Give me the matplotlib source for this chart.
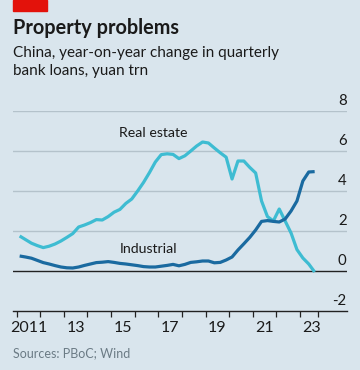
import numpy as np
import matplotlib
matplotlib.use("Agg")
import matplotlib.pyplot as plt

# Quarterly data, 2011Q1 - 2023Q3 (plotted at mid-quarter)
start_year = 2011
n_quarters = 51
real_estate = [1.75, 1.57, 1.39, 1.27, 1.17, 1.24, 1.35, 1.50, 1.68, 1.87,
               2.20, 2.30, 2.42, 2.57, 2.55, 2.72, 2.94, 3.08, 3.38, 3.60,
               4.00, 4.43, 4.92, 5.45, 5.82, 5.86, 5.83, 5.62, 5.76, 6.00,
               6.25, 6.45, 6.40, 6.15, 5.91, 5.69, 4.60, 5.50, 5.50, 5.18,
               4.90, 3.50, 2.72, 2.50, 3.10, 2.50, 1.90, 1.07, 0.65, 0.35,
               -0.05]
industrial = [0.75, 0.70, 0.64, 0.53, 0.42, 0.35, 0.27, 0.20, 0.16, 0.15,
              0.20, 0.28, 0.35, 0.42, 0.44, 0.47, 0.43, 0.38, 0.35, 0.31,
              0.27, 0.22, 0.20, 0.20, 0.24, 0.28, 0.33, 0.26, 0.33, 0.43,
              0.46, 0.50, 0.50, 0.41, 0.43, 0.55, 0.70, 1.05, 1.36, 1.68,
              2.05, 2.48, 2.52, 2.48, 2.45, 2.60, 3.00, 3.50, 4.50, 4.95,
              4.97]
x_labels = ["2011", "13", "15", "17", "19", "21", "23"]
y_ticks = [-2, 0, 2, 4, 6, 8]

t = start_year + 0.125 + 0.25 * np.arange(n_quarters)

BG = "#d9e5ed"
CYAN = "#3ebcd2"
BLUE = "#1a6aa0"
GRID = "#b4c2cb"
TXT = "#1a1a1a"
FONT = "Lato"

fig = plt.figure(figsize=(3.6, 3.7), dpi=100)
fig.patch.set_facecolor(BG)

ax = fig.add_axes([13.3 / 360, 59 / 370, (346.7 - 13.3) / 360, 200 / 370])
ax.set_facecolor(BG)
ax.set_xlim(2010.856, 2024.983)
ax.set_ylim(-2, 8)

for yv in [2, 4, 6, 8]:
    ax.axhline(yv, color=GRID, lw=1.0, zorder=1)
ax.axhline(0, color="#222222", lw=1.0, zorder=2)

ax.plot(t, real_estate, color=CYAN, lw=2.3, zorder=3, solid_capstyle="butt")
ax.plot(t, industrial, color=BLUE, lw=2.3, zorder=4, solid_capstyle="butt")

for s in ["top", "left", "right"]:
    ax.spines[s].set_visible(False)
ax.spines["bottom"].set_color("#222222")
ax.spines["bottom"].set_linewidth(1.0)

major = list(range(2011, 2024)) + [2023.75]
ax.set_xticks(major)
ax.set_xticklabels([""] * len(major))
ax.tick_params(axis="x", which="major", length=4, width=0.9, color="#222222", direction="out")
ax.set_xticks([2011.5 + 2 * i for i in range(len(x_labels))], minor=True)
ax.set_xticklabels(x_labels, minor=True, fontsize=11.5, fontfamily=FONT, color=TXT)
ax.tick_params(axis="x", which="minor", length=0, pad=7.5)
ax.set_yticks([])

for yv in y_ticks:
    ax.text(1.0, yv + 0.15, str(yv) if yv >= 0 else "-" + str(-yv), transform=ax.get_yaxis_transform(),
            ha="right", va="bottom", fontsize=10.8, fontfamily=FONT, color=TXT)

ax.text(2015.35, 6.72, "Real estate", fontsize=10.2, fontfamily=FONT, color=TXT, ha="left", va="baseline")
ax.text(2015.35, 0.92, "Industrial", fontsize=10.2, fontfamily=FONT, color=TXT, ha="left", va="baseline")

# Header
fig.patches.append(plt.Rectangle((13 / 360, 1 - 11 / 370), 34 / 360, 11 / 370,
                                 transform=fig.transFigure, color="#e3120b", zorder=5))
fig.text(13 / 360, 1 - 34 / 370, "Property problems", fontsize=14.3, fontweight="bold",
         fontfamily=FONT, color=TXT, ha="left", va="baseline")
fig.text(13 / 360, 1 - 57 / 370, "China, year-on-year change in quarterly", fontsize=11,
         fontfamily=FONT, color=TXT, ha="left", va="baseline")
fig.text(13 / 360, 1 - 75 / 370, "bank loans, yuan trn", fontsize=11,
         fontfamily=FONT, color=TXT, ha="left", va="baseline")
fig.text(13 / 360, 1 - 357 / 370, "Sources: PBoC; Wind", fontsize=9,
         fontfamily=FONT, color="#6b7b85", ha="left", va="baseline")

fig.savefig("out.png", dpi=100, facecolor=BG)
